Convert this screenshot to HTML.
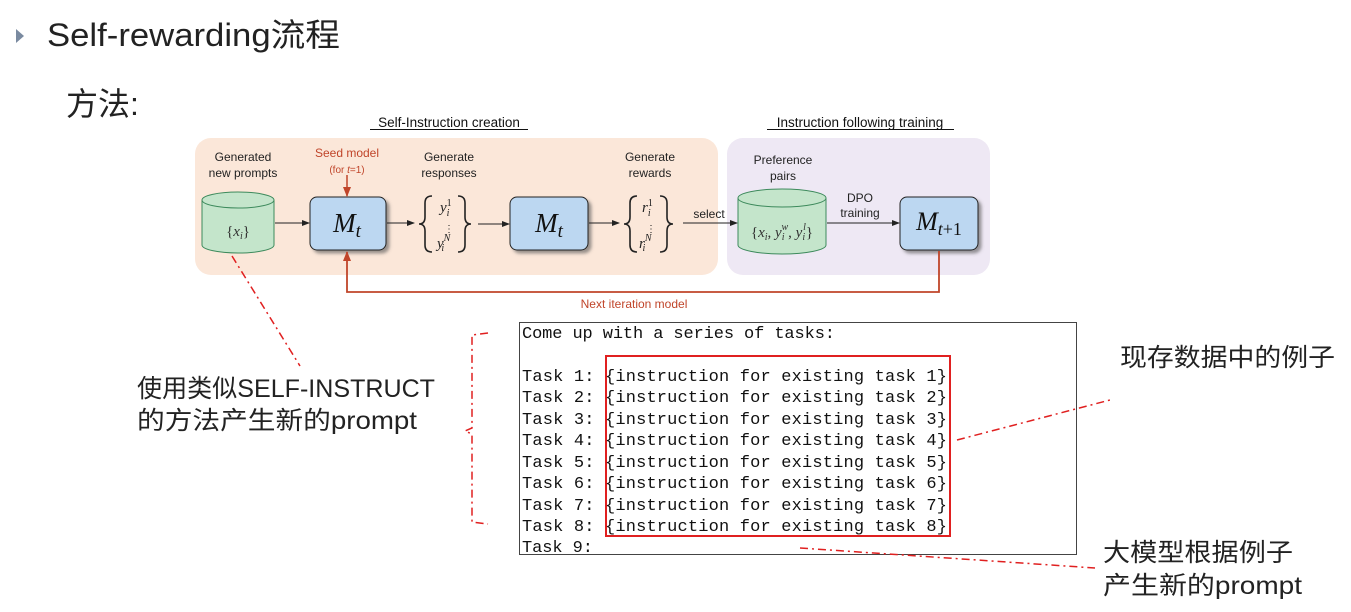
<!DOCTYPE html>
<html><head><meta charset="utf-8"><style>
html,body{margin:0;padding:0;background:#fff;}
svg{display:block;}
</style></head><body>
<svg width="1351" height="612" viewBox="0 0 1351 612" xmlns="http://www.w3.org/2000/svg">
<defs>
<marker id="ah" markerWidth="8" markerHeight="8" refX="7" refY="4" orient="auto" markerUnits="userSpaceOnUse"><path d="M0,1 L8,4 L0,7 z" fill="#222"/></marker>
<marker id="ahr" markerWidth="10" markerHeight="10" refX="9" refY="5" orient="auto" markerUnits="userSpaceOnUse"><path d="M0,1 L10,5 L0,9 z" fill="#c0452a"/></marker>
<filter id="sh" x="-20%" y="-20%" width="150%" height="150%"><feDropShadow dx="3" dy="3" stdDeviation="1.5" flood-color="#555" flood-opacity="0.6"/></filter>
</defs>
<!-- header -->
<path d="M16,29 L24,36 L16,43 z" fill="#7a8aa0"/>
<text x="47" y="46" font-family="Liberation Sans, Noto Sans CJK SC, sans-serif" font-size="32" fill="#222" textLength="293" lengthAdjust="spacingAndGlyphs">Self-rewarding流程</text>
<text x="66" y="115" font-family="Liberation Sans, Noto Sans CJK SC, sans-serif" font-size="32" fill="#222">方法:</text>

<!-- panels -->
<rect x="195" y="138" width="523" height="137" rx="16" fill="#fbe7d9"/>
<rect x="727" y="138" width="263" height="137" rx="16" fill="#eee8f4"/>
<g font-family="Liberation Sans, sans-serif" font-size="13.5" fill="#111" text-anchor="middle">
<text x="449" y="127">Self-Instruction creation</text>
<line x1="370" y1="129.5" x2="528" y2="129.5" stroke="#111" stroke-width="1"/>
<text x="860" y="127">Instruction following training</text>
<line x1="767" y1="129.5" x2="954" y2="129.5" stroke="#111" stroke-width="1"/>
</g>
<g font-family="Liberation Sans, sans-serif" font-size="12" fill="#222" text-anchor="middle">
<text x="243" y="161">Generated</text><text x="243" y="177">new prompts</text>
<text x="449" y="161">Generate</text><text x="449" y="177">responses</text>
<text x="650" y="161">Generate</text><text x="650" y="177">rewards</text>
<text x="783" y="164">Preference</text><text x="783" y="180">pairs</text>
<text x="860" y="202">DPO</text><text x="860" y="217">training</text>
<text x="709" y="218">select</text>
<text x="347" y="157" fill="#c0452a">Seed model</text>
<text x="347" y="173" fill="#c0452a" font-size="10">(for <tspan font-style="italic">t</tspan>=1)</text>
<text x="634" y="308" fill="#c0452a">Next iteration model</text>
</g>
<!-- cylinder 1 -->
<g stroke="#3d8a5c" stroke-width="1" fill="#c4e5cb">
<path d="M202,200 L202,245 A36,8 0 0 0 274,245 L274,200"/>
<ellipse cx="238" cy="200" rx="36" ry="8"/>
</g>
<text x="238" y="236" font-family="Liberation Serif, serif" font-size="15" text-anchor="middle" fill="#333">{<tspan font-style="italic">x</tspan><tspan font-size="10" font-style="italic" dy="3">i</tspan><tspan dy="-3">}</tspan></text>
<!-- cylinder 2 -->
<g stroke="#3d8a5c" stroke-width="1" fill="#c4e5cb">
<path d="M738,198 L738,245 A44,9 0 0 0 826,245 L826,198"/>
<ellipse cx="782" cy="198" rx="44" ry="9"/>
</g>
<text x="782" y="237" font-family="Liberation Serif, serif" font-size="15" text-anchor="middle" fill="#333">{<tspan font-style="italic">x</tspan><tspan font-size="10" font-style="italic" dy="3">i</tspan><tspan dy="-3">, </tspan><tspan font-style="italic">y</tspan><tspan font-size="10" font-style="italic" dy="3">i</tspan><tspan font-size="10" font-style="italic" dy="-10" dx="-3">w</tspan><tspan dy="7">, </tspan><tspan font-style="italic">y</tspan><tspan font-size="10" font-style="italic" dy="3">i</tspan><tspan font-size="10" font-style="italic" dy="-10" dx="-2">l</tspan><tspan dy="7">}</tspan></text>
<!-- model boxes -->
<g fill="#bcd7f1" stroke="#222" stroke-width="1" filter="url(#sh)">
<rect x="310" y="197" width="76" height="53" rx="7"/>
<rect x="510" y="197" width="78" height="53" rx="7"/>
<rect x="900" y="197" width="78" height="53" rx="7"/>
</g>
<g font-family="Liberation Serif, serif" font-style="italic" fill="#111" text-anchor="middle">
<text x="347" y="232" font-size="27">M<tspan font-size="19" dy="5">t</tspan></text>
<text x="549" y="232" font-size="27">M<tspan font-size="19" dy="5">t</tspan></text>
<text x="939" y="230" font-size="26">M<tspan font-size="18" dy="5" font-style="normal"><tspan font-style="italic">t</tspan>+1</tspan></text>
</g>
<!-- braces -->
<g fill="none" stroke="#222" stroke-width="1.6">
<path d="M432,196 Q425,196 425,203 L425,217 Q425,224 419,224 Q425,224 425,231 L425,245 Q425,252 432,252"/>
<path d="M458,196 Q465,196 465,203 L465,217 Q465,224 471,224 Q465,224 465,231 L465,245 Q465,252 458,252"/>
<path d="M637,196 Q630,196 630,203 L630,217 Q630,224 624,224 Q630,224 630,231 L630,245 Q630,252 637,252"/>
<path d="M660,196 Q667,196 667,203 L667,217 Q667,224 673,224 Q667,224 667,231 L667,245 Q667,252 660,252"/>
</g>
<g font-family="Liberation Serif, serif" fill="#222">
<text x="440" y="212" font-size="15" font-style="italic">y<tspan font-size="10" dy="-6" font-style="normal">1</tspan><tspan font-size="10" dy="10" dx="-5">i</tspan></text>
<text x="444" y="232" font-size="10">⋮</text>
<text x="437" y="248" font-size="15" font-style="italic">y<tspan font-size="10" dy="-7">N</tspan><tspan font-size="10" dy="10" dx="-9">i</tspan></text>
<text x="642" y="212" font-size="15" font-style="italic">r<tspan font-size="10" dy="-6" font-style="normal">1</tspan><tspan font-size="10" dy="10" dx="-5">i</tspan></text>
<text x="646" y="232" font-size="10">⋮</text>
<text x="639" y="248" font-size="15" font-style="italic">r<tspan font-size="10" dy="-7">N</tspan><tspan font-size="10" dy="10" dx="-9">i</tspan></text>
</g>
<!-- arrows -->
<g stroke="#222" stroke-width="1" marker-end="url(#ah)">
<line x1="275" y1="223" x2="309" y2="223"/>
<line x1="387" y1="223" x2="414" y2="223"/>
<line x1="478" y1="224" x2="509" y2="224"/>
<line x1="589" y1="223" x2="619" y2="223"/>
<line x1="683" y1="223" x2="737" y2="223"/>
<line x1="827" y1="223" x2="899" y2="223"/>
</g>
<line x1="347" y1="175" x2="347" y2="196" stroke="#c0452a" stroke-width="1.5" marker-end="url(#ahr)"/>
<polyline points="939,251 939,292 347,292 347,252" fill="none" stroke="#c0452a" stroke-width="1.8" marker-end="url(#ahr)"/>

<!-- code box -->
<rect x="519.5" y="322.5" width="557" height="232" fill="#fff" stroke="#444" stroke-width="1"/>
<rect x="606" y="356" width="344" height="180" fill="none" stroke="#e02020" stroke-width="2"/>
<g font-family="Liberation Mono, monospace" font-size="17" fill="#111" xml:space="preserve" lengthAdjust="spacing">
<text x="522" y="338" textLength="313">Come up with a series of tasks:</text>
<text x="522" y="381" textLength="425">Task 1:  {instruction for existing task 1}</text>
<text x="522" y="402" textLength="425">Task 2:  {instruction for existing task 2}</text>
<text x="522" y="424" textLength="425">Task 3:  {instruction for existing task 3}</text>
<text x="522" y="445" textLength="425">Task 4:  {instruction for existing task 4}</text>
<text x="522" y="467" textLength="425">Task 5:  {instruction for existing task 5}</text>
<text x="522" y="488" textLength="425">Task 6:  {instruction for existing task 6}</text>
<text x="522" y="510" textLength="425">Task 7:  {instruction for existing task 7}</text>
<text x="522" y="531" textLength="425">Task 8:  {instruction for existing task 8}</text>
<text x="522" y="552" textLength="71">Task 9:</text>
</g>
<!-- dash-dot annotations -->
<g stroke="#e02020" stroke-width="1.5" fill="none" stroke-dasharray="8,4,2,4">
<line x1="232" y1="256" x2="300" y2="366"/>
<polyline points="488,333 472,335 472,428 465,431 472,434 472,522 488,524"/>
<line x1="957" y1="440" x2="1110" y2="400"/>
<line x1="800" y1="548" x2="1095" y2="568"/>
</g>
<!-- chinese annotations -->
<g font-family="Liberation Sans, Noto Sans CJK SC, sans-serif" fill="#222">
<text x="137" y="397" font-size="25" textLength="298" lengthAdjust="spacingAndGlyphs">使用类似SELF-INSTRUCT</text>
<text x="137" y="429" font-size="25" textLength="280" lengthAdjust="spacingAndGlyphs">的方法产生新的prompt</text>
<text x="1120" y="366" font-size="25" textLength="215" lengthAdjust="spacingAndGlyphs">现存数据中的例子</text>
<text x="1103" y="561" font-size="25" textLength="190" lengthAdjust="spacingAndGlyphs">大模型根据例子</text>
<text x="1103" y="594" font-size="25" textLength="199" lengthAdjust="spacingAndGlyphs">产生新的prompt</text>
</g>
</svg>
</body></html>
